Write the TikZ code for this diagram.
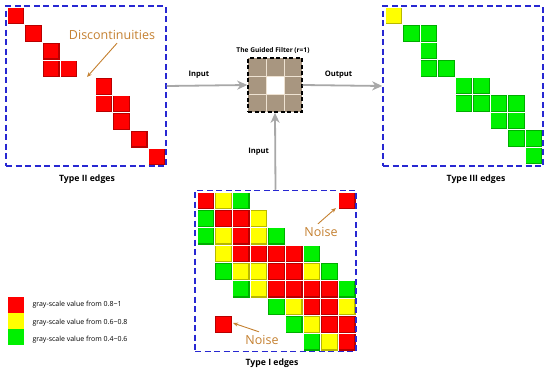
\documentclass[tikz,border=0pt]{standalone}
\usepackage{fontspec}
\setmainfont{Open Sans}
\usetikzlibrary{arrows.meta}

\definecolor{boxblue}{RGB}{40,40,210}
\definecolor{arrgray}{RGB}{168,168,168}
\definecolor{filtan}{RGB}{168,150,128}
\definecolor{filline}{RGB}{238,226,210}
\definecolor{labbrown}{RGB}{196,128,48}
\definecolor{cred}{RGB}{255,0,0}
\definecolor{cyel}{RGB}{255,255,0}
\definecolor{cgrn}{RGB}{0,240,0}

\tikzset{
  edgebox/.style={draw=boxblue, line width=1.5pt, dash pattern=on 6pt off 3.5pt,
    minimum size=160pt, inner sep=0pt},
  flow/.style={draw=arrgray, line width=1.8pt, -{Stealth[length=10pt,width=9pt,inset=3pt]}},
  caption/.style={font=\fontsize{8.7}{10}\selectfont\bfseries},
  flowtext/.style={font=\fontsize{7.6}{9}\selectfont\bfseries},
  remark/.style={text=labbrown, font=\fontsize{12.5}{14}\selectfont},
  pointer/.style={draw=labbrown, line width=0.9pt, -{Stealth[length=5pt,width=4pt]}},
  legtext/.style={anchor=west, font=\fontsize{7}{8}\selectfont},
}

% 像素格子: 列/行/颜色
\newcommand{\pixels}[1]{%
  \foreach \c/\r/\k in {#1}{
    \fill[\k!72!black] (\c,\r) rectangle ++(1,1);
    \fill[\k] (\c+0.08,\r+0.08) rectangle (\c+0.92,\r+0.92);
    \draw[white, line width=0.4pt] (\c,\r) rectangle ++(1,1);
  }}

\begin{document}
\begin{tikzpicture}[x=1pt, y=-1pt]
    \useasboundingbox (0,0) rectangle (550,372);

    % Type II
    \begin{scope}[shift={(7,7)}, x=17.6pt, y=-17.6pt]
        \pixels{0/0/cred, 1/1/cred, 2/2/cred, 2/3/cred, 3/3/cred, 5/4/cred,
                5/5/cred, 6/5/cred, 6/6/cred, 7/7/cred, 8/8/cred}
    \end{scope}
    \node[edgebox] (typeII) at (86,86) {};
    \node[caption] (capII) at (87,179) {Type II edges};
    \node[remark] (disc) at (112,35) {Discontinuities};
    \coordinate (gap) at (87,77);
    \draw[pointer] ([xshift=5pt]disc.south) -- (gap);

    % Type III
    \begin{scope}[shift={(385,7)}, x=17.5pt, y=-17.5pt]
        \pixels{0/0/cyel, 1/1/cgrn, 2/1/cgrn, 2/2/cgrn, 2/3/cgrn, 3/3/cgrn,
                4/4/cgrn, 5/4/cgrn, 4/5/cgrn, 5/5/cgrn, 6/5/cgrn, 7/5/cgrn,
                6/6/cgrn, 7/6/cgrn, 7/7/cgrn, 8/7/cgrn, 8/8/cgrn}
    \end{scope}
    \node[edgebox] (typeIII) at (463,86) {};
    \node[caption] (capIII) at (476,179) {Type III edges};

    % Type I
    \begin{scope}[shift={(196.7,191.7)}, x=17.67pt, y=-17.67pt]
        \pixels{0/0/cred, 1/0/cyel, 2/0/cgrn, 8/0/cred,
                0/1/cgrn, 1/1/cred, 2/1/cred, 3/1/cyel,
                0/2/cgrn, 1/2/cyel, 2/2/cred, 3/2/cyel, 4/2/cgrn,
                1/3/cyel, 2/3/cred, 3/3/cred, 4/3/cred, 5/3/cred, 6/3/cgrn,
                1/4/cgrn, 2/4/cyel, 3/4/cyel, 4/4/cred, 5/4/cred, 6/4/cyel, 7/4/cgrn,
                2/5/cgrn, 3/5/cyel, 4/5/cred, 5/5/cred, 6/5/cred, 7/5/cred, 8/5/cgrn,
                4/6/cgrn, 5/6/cyel, 6/6/cred, 7/6/cred, 8/6/cyel,
                1/7/cred, 5/7/cgrn, 6/7/cyel, 7/7/cred, 8/7/cred,
                6/8/cgrn, 7/8/cyel, 8/8/cred}
    \end{scope}
    \node[edgebox, minimum size=161pt] (typeI) at (275.5,271) {};
    \node[caption] (capI) at (272,363) {Type I edges};
    \node[remark] (noiseA) at (321,232) {Noise};
    \node[remark] (noiseB) at (262,340) {Noise};
    \coordinate (spotA) at (336,208);
    \coordinate (spotB) at (233,323);
    \draw[pointer] ([xshift=-3pt]noiseA.north) -- (spotA);
    \draw[pointer] ([xshift=-3pt]noiseB.north) -- (spotB);

    % 引导滤波器
    \begin{scope}[shift={(248,58)}, x=18pt, y=-18pt]
        \fill[filtan] (0,0) rectangle (3,3);
        \fill[white] (1,1) rectangle (2,2);
        \foreach \i in {1,2}{
            \draw[filline, line width=0.8pt] (\i,0) -- (\i,3);
            \draw[filline, line width=0.8pt] (0,\i) -- (3,\i);
        }
    \end{scope}
    \node[draw=black, line width=1.5pt, dash pattern=on 4pt off 2.5pt,
          minimum size=54pt, inner sep=0pt] (filter) at (275,85) {};
    \node[font=\fontsize{6.6}{8}\selectfont\bfseries] (title) at (273,51)
        {The Guided Filter (r=1)};

    % 箭头
    \draw[flow] (typeII.east) -- (filter.west)
        node[flowtext, pos=0.4, above=3pt] (inL) {Input};
    \draw[flow] (filter.east) -- (typeIII.west)
        node[flowtext, pos=0.45, above=3pt] (outR) {Output};
    \draw[flow] (typeI.north) -- (filter.south)
        node[flowtext, pos=0.5, left=2pt] (inB) {Input};

    % 图例
    \fill[cred] (8,297) rectangle (24,313);
    \fill[cyel] (8,313) rectangle (24,329);
    \fill[cgrn] (8,329) rectangle (24,345);
    \node[legtext] (leg1) at (29,305) {gray-scale value from 0.8\textasciitilde1};
    \node[legtext] (leg2) at (29,323) {gray-scale value from 0.6\textasciitilde0.8};
    \node[legtext] (leg3) at (29,340) {gray-scale value from 0.4\textasciitilde0.6};
\end{tikzpicture}
\end{document}
